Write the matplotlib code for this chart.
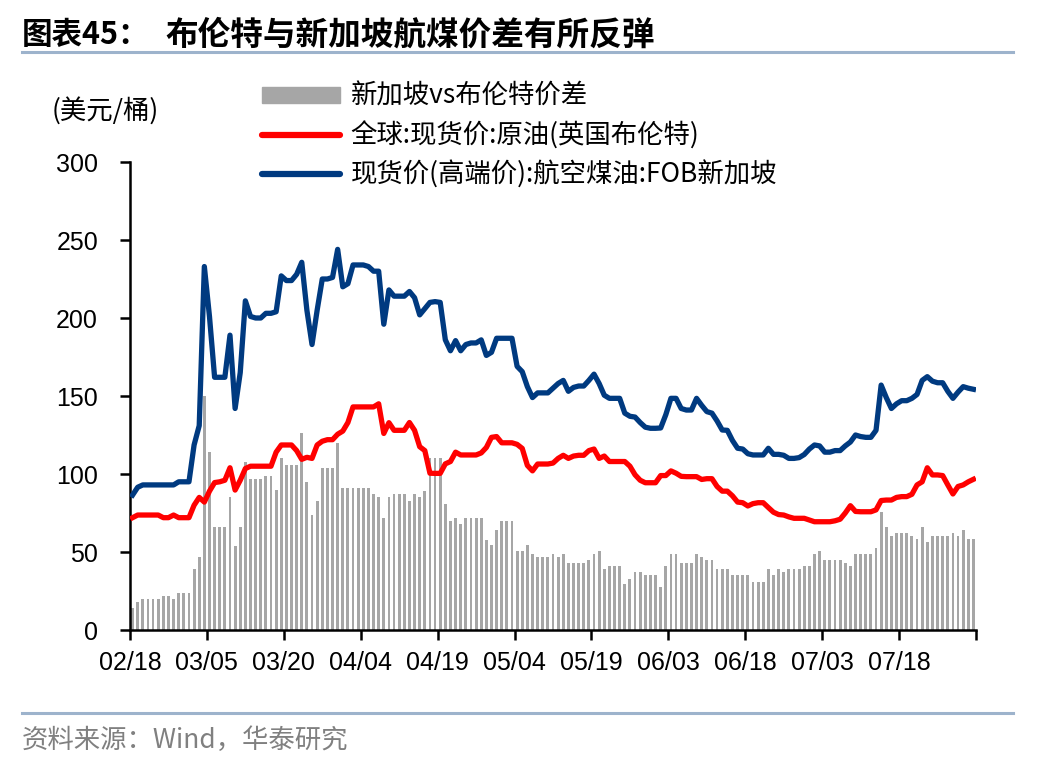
import numpy as np
import matplotlib.pyplot as plt
from matplotlib.patches import Patch
from matplotlib.lines import Line2D

CJK = ['Noto Sans CJK SC', 'DejaVu Sans']
plt.rcParams['font.family'] = CJK

# x axis: one point per calendar day, 02/18 .. 08/01, ticks every 15 days
tick_labels = ['02/18', '03/05', '03/20', '04/04', '04/19', '05/04',
               '05/19', '06/03', '06/18', '07/03', '07/18', '']

# 新加坡vs布伦特价差 (bars)
spread = [14, 18, 20, 20, 20, 20, 22, 22, 20, 24, 24, 24, 39, 47, 150, 114,
          66, 66, 66, 85, 54, 66, 108, 97, 97, 97, 99, 99, 90, 110, 106, 106,
          106, 126, 95, 74, 83, 104, 104, 104, 120, 91, 91, 91, 91, 91, 91, 87,
          85.5, 71.6, 85.5, 87, 87, 87, 83, 87, 85.5, 89, 110, 110, 110, 81, 70,
          72, 68, 72, 72, 72, 72, 58, 54.5, 64, 70, 70, 70, 50.6, 50.6, 54.5,
          48.7, 46.6, 46.6, 46.6, 48.7, 46.6, 48.5, 42.7, 42.7, 42.7, 42.7, 44.9,
          48.5, 50.6, 38.9, 40.8, 40.8, 40.8, 29.3, 33, 36.9, 36.9, 35, 35, 35,
          27.4, 40.8, 48.5, 48.5, 42.7, 42.7, 42.7, 48.5, 46.6, 44.9, 44.9, 39.1,
          39.1, 39.1, 35, 35, 35, 35, 31, 31, 31, 39.1, 35, 39.1, 37, 39.1, 39.1,
          39.1, 41, 41, 48.5, 50.6, 44.9, 44.9, 44.9, 44.9, 43, 41, 48.7, 48.7,
          48.7, 48.7, 52.4, 75.4, 65.8, 60.3, 62.4, 62.4, 62.4, 60.3, 58.3, 65.8,
          56.2, 60.3, 60.3, 60.3, 60.3, 62.4, 60.3, 64, 58.3, 58.3]

# 全球:现货价:原油(英国布伦特)
brent = [72, 73.7, 73.7, 73.7, 73.7, 73.7, 72, 72, 73.7, 72, 72, 72, 80, 85,
         82, 89, 94.5, 95, 96, 104, 89.7, 96, 103.5, 105, 105, 105, 105, 105,
         114, 118.6, 118.6, 118.6, 115, 109.4, 110.7, 110, 118.6, 121, 122, 122,
         125.5, 127.5, 133, 143, 143, 143, 143, 143, 145, 126, 132.9, 128, 128,
         128, 133, 128, 117.5, 115, 100.5, 100.4, 100.4, 106.5, 108, 114, 112.2,
         112.2, 112.2, 112.2, 113.5, 117, 123.5, 124, 120, 120, 120, 119, 116.4,
         105.5, 102, 106.4, 106.4, 106.4, 107, 110, 112, 110, 111.5, 112, 112,
         115, 116, 110, 111.5, 108, 108, 108, 108, 105, 99.5, 96, 94.4, 94.4,
         94.4, 99, 99, 102, 100.5, 98.5, 98.3, 98.3, 98.3, 96.5, 97, 97, 92, 89,
         89, 86, 82, 81.6, 79.5, 81, 81.6, 81.6, 78.5, 75.5, 74, 73.7, 72.5,
         71.6, 71.6, 71.6, 70.5, 69.4, 69.4, 69.4, 69.4, 70, 71, 75, 79.7, 76,
         75.8, 75.8, 75.8, 77, 83, 83.3, 83.3, 85, 85.5, 85.5, 87, 93, 95, 104,
         99.4, 99.4, 99, 93, 87.2, 92, 93, 95, 96.6]

# 现货价(高端价):航空煤油:FOB新加坡
jet = [86.5, 91.5, 93, 93, 93, 93, 93, 93, 93, 95, 95, 95, 118.6, 131, 233,
       201, 162, 162, 162, 189, 142, 165, 211, 201, 200, 200, 203, 203, 204,
       227, 224, 224, 228, 235.7, 205, 183, 205, 225, 225, 226, 244, 220, 222,
       234, 234, 234, 233, 230, 230, 196, 218, 214, 214, 214, 217, 213, 202,
       206, 210, 210.5, 210, 186, 179, 185.5, 179, 183, 184, 184, 186, 176, 178,
       187, 187, 187, 187, 169, 165.6, 156, 149, 152, 152, 152, 155, 158, 160,
       153, 155.5, 156.4, 156.4, 160, 164, 158, 150.5, 148.5, 148.5, 148.5, 139,
       137, 136.5, 133, 130, 129.3, 129.3, 129.5, 138, 148.5, 148.5, 142, 141,
       141, 148.5, 144, 140, 139, 134, 128.2, 128, 121.5, 116.5, 116, 113,
       112.2, 112.2, 112.2, 116.5, 112.6, 112.6, 112, 110, 110, 110.5, 112.5,
       116, 118.6, 118, 114, 114, 115, 115, 118, 120.5, 125, 124, 123.5, 123.5,
       128, 157, 149, 142, 145, 147, 147, 148.5, 151, 160, 162.4, 159.5, 158.5,
       158.5, 153, 148.5, 152.5, 156, 155, 154.3]

labels = ['新加坡vs布伦特价差', '全球:现货价:原油(英国布伦特)',
          '现货价(高端价):航空煤油:FOB新加坡']
GREY, RED, NAVY = '#a6a6a6', '#ff0000', '#003a80'

x = np.arange(len(spread)) + 0.5

fig = plt.figure(figsize=(10.48, 7.64), dpi=100)
ax = fig.add_axes([130/1048, 134/764, 846/1048, 468/764])

ax.bar(x, spread, width=0.55, color=GREY, zorder=1)
ax.plot(x, brent, color=RED, lw=3.8, solid_joinstyle='round', zorder=3)
ax.plot(x, jet, color=NAVY, lw=3.8, solid_joinstyle='round', zorder=4)

ax.set_xlim(0, 165)
ax.set_ylim(0, 300)
ax.set_xticks(np.arange(0, 166, 15))
ax.set_xticklabels(tick_labels)
ax.set_yticks(range(0, 301, 50))

for s in ['top', 'right']:
    ax.spines[s].set_visible(False)
for s in ['left', 'bottom']:
    ax.spines[s].set_linewidth(1.8)
ax.tick_params(axis='both', width=1.8, length=7, labelsize=18)
ax.tick_params(axis='y', pad=16)
ax.tick_params(axis='x', pad=8)
for lab in ax.get_xticklabels() + ax.get_yticklabels():
    lab.set_fontfamily('Liberation Sans')

handles = [Patch(color=GREY),
           Line2D([], [], color=RED, lw=4.5, solid_capstyle='round'),
           Line2D([], [], color=NAVY, lw=4.5, solid_capstyle='round')]
fig.legend(handles, labels, loc='upper left', bbox_to_anchor=(262/1048, 1 - 83/764),
           frameon=False, fontsize=19, borderpad=0, borderaxespad=0,
           handlelength=2.95, handleheight=0.55, handletextpad=0.4, labelspacing=0.42)

fig.text(52/1048, 1 - 111/764, '(美元/桶)', fontsize=19, va='center')

# title, rules and source
fig.text(22/1048, 1 - 35/764, '图表45：', fontsize=22, fontweight='bold', va='center')
fig.text(165/1048, 1 - 35/764, '布伦特与新加坡航煤价差有所反弹', fontsize=23.5,
         fontweight='bold', va='center')
for yy in (52, 713):
    fig.add_artist(Line2D([22/1048, 1013/1048], [1 - yy/764] * 2,
                          transform=fig.transFigure, color='#9db3cc', lw=2.2))
fig.text(22/1048, 1 - 740/764, '资料来源：Wind，华泰研究', fontsize=19,
         color='#808080', va='center')

fig.savefig('out.png', dpi=100, facecolor='white')
